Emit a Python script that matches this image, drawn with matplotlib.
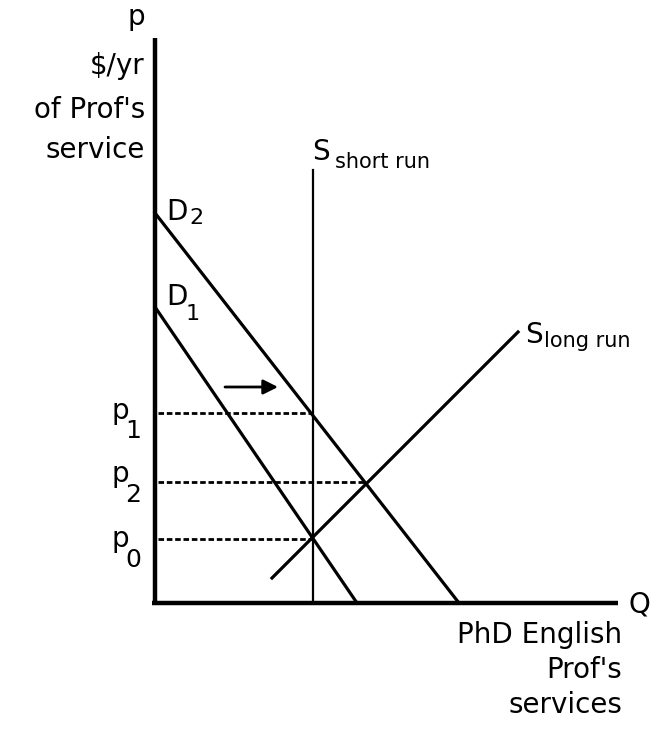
import matplotlib
matplotlib.use("Agg")
import matplotlib.pyplot as plt

# ---- data (units: Q and P in chart units) ----
d2_q = [0, 304]
d2_p = [390, 0]
d1_q = [0, 202]
d1_p = [296, 0]
s_short_q = [158, 158]
s_short_p = [0, 433]
s_long_q = [117, 363]
s_long_p = [25, 271]
price_levels = [190, 121, 64]          # p1, p2, p0
price_q_ends = [158, 211, 158]
price_names = ["1", "2", "0"]
arrow_q = [70, 123]
arrow_p = 216
axis_q_max = 463
axis_p_max = 565

fig = plt.figure(figsize=(6.52, 7.29), dpi=100)
ax = fig.add_axes([0, 0, 1, 1])
ax.set_xlim(-155, 497)
ax.set_ylim(-126, 603)
ax.axis("off")

FS = 20
SUB = 16
SUBS = 15

# axes
ax.plot([0, 0], [0, axis_p_max], color="black", lw=3.2, solid_capstyle="butt")
ax.plot([-3, axis_q_max], [0, 0], color="black", lw=3.2, solid_capstyle="butt")

# curves
ax.plot(d2_q, d2_p, color="black", lw=2.3)
ax.plot(d1_q, d1_p, color="black", lw=2.3)
ax.plot(s_short_q, s_short_p, color="black", lw=1.6)
ax.plot(s_long_q, s_long_p, color="black", lw=2.3)

# dashed price lines
for p, qe in zip(price_levels, price_q_ends):
    ax.plot([3, qe], [p, p], color="black", lw=2.0, linestyle=(0, (2.0, 1.0)))

# arrow
ax.annotate("", xy=(arrow_q[1], arrow_p), xytext=(arrow_q[0], arrow_p),
            arrowprops=dict(arrowstyle="-|>", color="black", lw=2.0,
                            mutation_scale=22, shrinkA=0, shrinkB=0))

bl = dict(va="baseline")

# axis labels
ax.text(-27, 578, "p", fontsize=FS, ha="left", **bl)
ax.text(-10, 529, "$/yr", fontsize=FS, ha="right", **bl)
ax.text(-10, 485, "of Prof's", fontsize=FS, ha="right", **bl)
ax.text(-10, 445, "service", fontsize=FS, ha="right", **bl)
ax.text(474, -9, "Q", fontsize=FS, ha="left", **bl)
ax.text(467, -40, "PhD English", fontsize=FS, ha="right", **bl)
ax.text(467, -75, "Prof's", fontsize=FS, ha="right", **bl)
ax.text(467, -110, "services", fontsize=FS, ha="right", **bl)

# demand labels
ax.text(11, 383, "D", fontsize=FS, ha="left", **bl)
ax.text(34, 379, "2", fontsize=SUB, ha="left", **bl)
ax.text(11, 298, "D", fontsize=FS, ha="left", **bl)
ax.text(31, 283, "1", fontsize=SUB, ha="left", **bl)

# supply labels
ax.text(157, 443, "S", fontsize=FS, ha="left", **bl)
ax.text(180, 435, "short run", fontsize=SUBS, ha="left", **bl)
ax.text(370, 260, "S", fontsize=FS, ha="left", **bl)
ax.text(389, 256, "long run", fontsize=SUBS, ha="left", **bl)

# price labels
p_base = [184, 121, 56]
sub_base = [165, 101, 36]
for pb, sb, nm in zip(p_base, sub_base, price_names):
    ax.text(-43, pb, "p", fontsize=FS, ha="left", **bl)
    ax.text(-30, sb, nm, fontsize=FS - 2, ha="left", **bl)

fig.savefig("out.png", dpi=100)
